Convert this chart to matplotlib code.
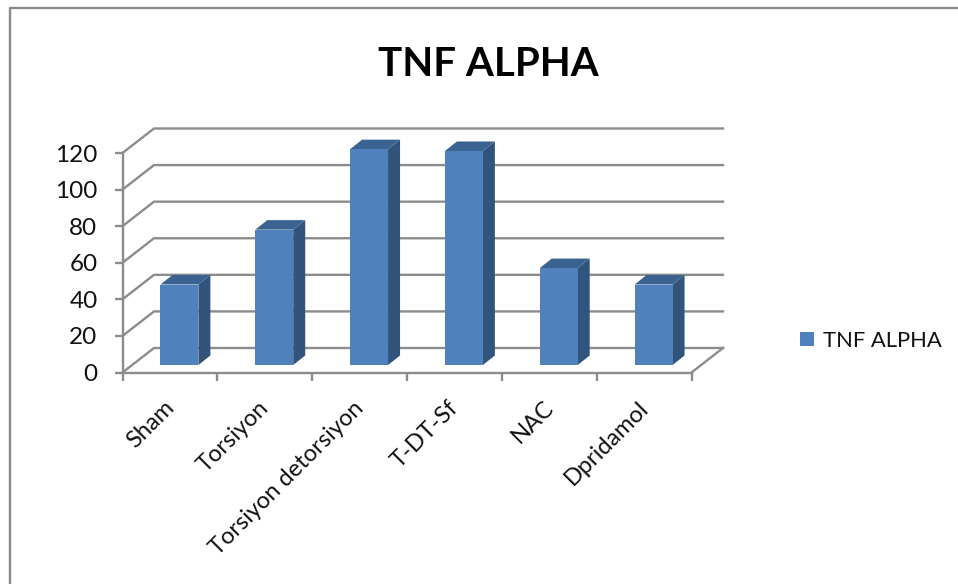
import matplotlib
matplotlib.use("Agg")
import matplotlib.pyplot as plt
from matplotlib.lines import Line2D
from matplotlib.patches import Polygon
from matplotlib.transforms import Affine2D, IdentityTransform

categories = ["Sham", "Torsiyon", "Torsiyon detorsiyon", "T-DT-Sf", "NAC", "Dpridamol"]
values = [44, 74, 118, 117, 53, 44]
series_name = "TNF ALPHA"
y_ticks = [0, 20, 40, 60, 80, 100, 120]

W, H = 958, 584
plt.rcParams["font.family"] = ["Lato", "DejaVu Sans"]
fig = plt.figure(figsize=(W / 100, H / 100), dpi=100)
ax = fig.add_axes([122.5 / W, (H - 372.5) / H, 569 / W, 219.5 / H])
ax.set_xlim(0, len(categories))
ax.set_ylim(0, 120)
ax.patch.set_visible(False)

GRID = "#8c8c8c"
FRONT, SIDE, TOP = "#4f81bd", "#32537c", "#3a6391"
WALL_DX, WALL_DY = 31.5, 24.5      # wall depth in pixels
BAR_SHIFT_X, BAR_SHIFT_Y = 9.5, 7.5  # bar offset from the front of the floor
BAR_DX, BAR_DY = 12, 9.5           # bar depth in pixels
BAR_W = 0.4
LW = 1.7

for s in ("top", "right"):
    ax.spines[s].set_visible(False)
for s in ("left", "bottom"):
    ax.spines[s].set_color(GRID)
    ax.spines[s].set_linewidth(LW)

ax.set_yticks(y_ticks)
ax.tick_params(axis="y", length=6, width=LW, color=GRID, labelsize=17.5, pad=12, labelcolor="#111111")
ax.set_xticks(range(len(categories) + 1))
ax.set_xticklabels([])
ax.tick_params(axis="x", which="major", length=6, width=LW, color=GRID)
ax.set_xticks([i + 0.5 for i in range(len(categories))], minor=True)
ax.set_xticklabels(categories, minor=True, rotation=45, ha="right", va="center",
                   rotation_mode="anchor", fontsize=17, color="#111111")
ax.tick_params(axis="x", which="minor", length=0, pad=23)
for lab in ax.get_xticklabels(minor=True):
    lab.set_transform(lab.get_transform() + Affine2D().translate(1, 0))

# walls and floor
to_px = ax.transData.transform
n = len(categories)
for v in y_ticks:
    a = to_px((0, v))
    b = a + (WALL_DX, WALL_DY)
    c = to_px((n, v)) + (WALL_DX, WALL_DY)
    ax.add_line(Line2D([a[0], b[0], c[0]], [a[1], b[1], c[1]], color=GRID, lw=LW,
                       transform=IdentityTransform(), clip_on=False, zorder=1))
a = to_px((n, 0))
ax.add_line(Line2D([a[0], a[0] + WALL_DX], [a[1], a[1] + WALL_DY], color=GRID, lw=LW,
                   transform=IdentityTransform(), clip_on=False, zorder=1))

# bars with depth
shift = ax.transData + Affine2D().translate(BAR_SHIFT_X, BAR_SHIFT_Y)
ax.bar([i + 0.5 for i in range(n)], values, width=BAR_W, color=FRONT, label=series_name,
       transform=shift, clip_on=False, zorder=3, edgecolor="none")
for i, v in enumerate(values):
    r = shift.transform((i + 0.5 + BAR_W / 2, 0))
    tl = shift.transform((i + 0.5 - BAR_W / 2, v))
    tr = shift.transform((i + 0.5 + BAR_W / 2, v))
    d = (BAR_DX, BAR_DY)
    ax.add_patch(Polygon([r, r + d, tr + d, tr], closed=True, fc=SIDE, ec="none",
                         transform=IdentityTransform(), clip_on=False, zorder=2.5))
    ax.add_patch(Polygon([tl, tr, tr + d, tl + d], closed=True, fc=TOP, ec="none",
                         transform=IdentityTransform(), clip_on=False, zorder=2.5))

# title, legend, chart frame
fig.text(488 / W, 1 - 64 / H, series_name, ha="center", va="center", fontsize=29,
         fontweight="bold", color="black")
fig.legend(handles=ax.containers[0].patches[:1], labels=[series_name], loc="center left",
           bbox_to_anchor=(785 / W, 1 - 341 / H), frameon=False, fontsize=15.8,
           handlelength=0.6, handleheight=0.6, handletextpad=0.45, borderpad=0.2,
           labelcolor="#111111")
fig.add_artist(Line2D([9.5 / W, 9.5 / W, 1], [0, 1 - 8 / H, 1 - 8 / H], color="#8a8a8a",
                      lw=1.7, transform=fig.transFigure))

fig.savefig("out.png", dpi=100)
